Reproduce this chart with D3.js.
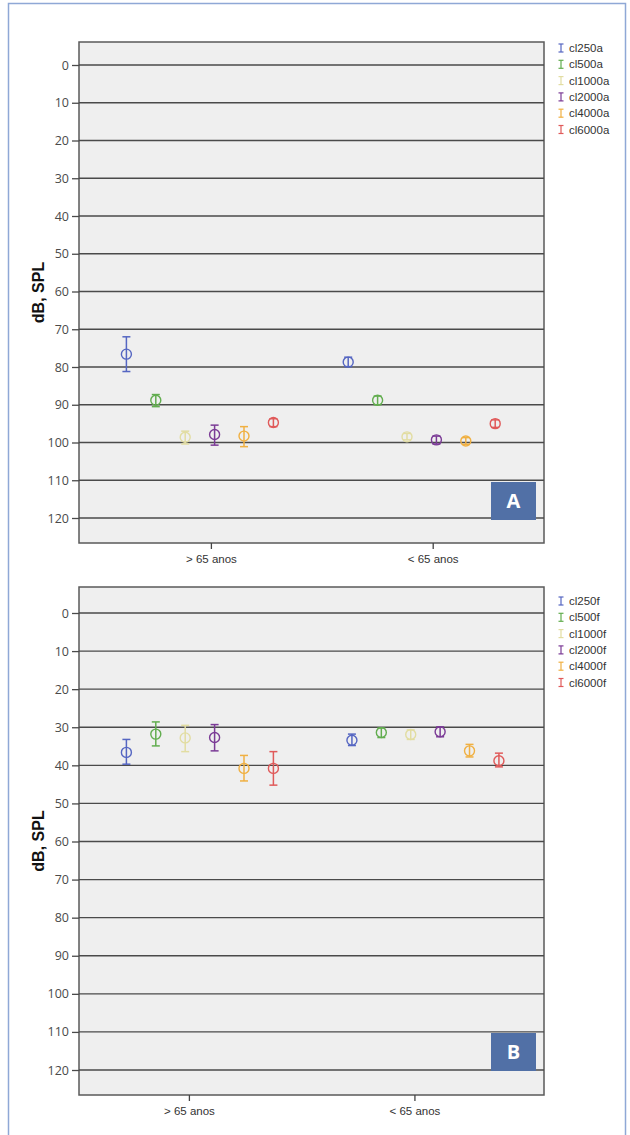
<!DOCTYPE html>
<html>
<head>
<meta charset="utf-8">
<script src="https://cdn.jsdelivr.net/npm/d3@7"></script>
<style>
  body { margin: 0; background: #fff; }
  text { font-family: "Liberation Sans", Arial, sans-serif; }
</style>
</head>
<body>
<script>
const width = 630;
const height = 1135;

// categories
const groups = ["> 65 anos", "< 65 anos"];
const yTicks = [0, 10, 20, 30, 40, 50, 60, 70, 80, 90, 100, 110, 120];
const colors = ["#5566c2", "#62ad4f", "#e2dda2", "#7b3b96", "#f0b042", "#e05a5a"];

// panel A (series x group)
const seriesA = ["cl250a", "cl500a", "cl1000a", "cl2000a", "cl4000a", "cl6000a"];
const meanA = [[76.6, 78.7], [88.8, 88.8], [98.6, 98.5], [97.9, 99.3], [98.3, 99.6], [94.7, 95.0]];
const lowA  = [[72.0, 77.4], [87.3, 87.7], [97.0, 97.6], [95.4, 98.3], [95.8, 98.7], [93.7, 94.0]];
const highA = [[81.2, 79.9], [90.5, 90.0], [100.4, 99.3], [100.7, 100.4], [101.1, 100.5], [95.8, 96.0]];

// panel B
const seriesB = ["cl250f", "cl500f", "cl1000f", "cl2000f", "cl4000f", "cl6000f"];
const meanB = [[36.6, 33.4], [31.8, 31.4], [32.8, 31.9], [32.7, 31.2], [40.8, 36.2], [40.8, 38.8]];
const lowB  = [[33.2, 31.8], [28.6, 30.2], [29.5, 30.7], [29.3, 29.9], [37.4, 34.5], [36.4, 36.8]];
const highB = [[39.7, 34.8], [34.9, 32.7], [36.4, 33.2], [36.2, 32.5], [44.1, 37.8], [45.2, 40.4]];

const svg = d3.select('body').append('svg')
    .attr('width', width)
    .attr('height', height);

// outer frame
svg.append('rect')
    .attr('x', 8.5).attr('y', 3.5)
    .attr('width', 617).attr('height', 1140)
    .attr('fill', 'none')
    .attr('stroke', '#8fa8d6')
    .attr('stroke-width', 1.5);

function drawPanel(cfg) {
    const left = 79, right = 544;
    const w = right - left;

    const y = d3.scaleLinear()
        .domain([0, 120])
        .range([cfg.y0, cfg.y120]);

    const x = d3.scalePoint()
        .domain(groups)
        .range([left + w * cfg.c0, left + w * cfg.c1]);

    const inner = d3.scalePoint()
        .domain(cfg.series)
        .range([-73.5, 73.5]);

    const g = svg.append('g');

    g.append('rect')
        .attr('x', left).attr('y', cfg.top)
        .attr('width', w).attr('height', cfg.bottom - cfg.top)
        .attr('fill', '#efefef')
        .attr('stroke', '#5a5a5a')
        .attr('stroke-width', 1.5);

    // gridlines
    g.selectAll('.grid')
        .data(yTicks)
        .enter().append('line')
        .attr('x1', left).attr('x2', right)
        .attr('y1', d => y(d)).attr('y2', d => y(d))
        .attr('stroke', '#4a4a4a')
        .attr('stroke-width', 1.3);

    // y axis
    const yAxis = g.append('g')
        .attr('transform', `translate(${left},0)`)
        .call(d3.axisLeft(y).tickValues(yTicks).tickSize(7).tickPadding(3));
    yAxis.select('.domain').remove();
    yAxis.selectAll('line').attr('stroke', '#4a4a4a').attr('stroke-width', 1.3);
    yAxis.selectAll('text')
        .attr('fill', '#4a4a4a')
        .style('font-size', '12.5px')
        .style('font-family', '"Open Sans", sans-serif');

    // x axis
    const xAxis = g.append('g')
        .attr('transform', `translate(${cfg.tickShift},${cfg.bottom})`)
        .call(d3.axisBottom(x).tickSize(6).tickPadding(6));
    xAxis.select('.domain').remove();
    xAxis.selectAll('line').attr('stroke', '#444').attr('stroke-width', 1.3);
    xAxis.selectAll('text')
        .attr('fill', '#333')
        .style('font-size', '11.5px');

    // title
    g.append('text')
        .attr('transform', `translate(44,${(cfg.top + cfg.bottom) / 2}) rotate(-90)`)
        .attr('text-anchor', 'middle')
        .attr('fill', '#111')
        .style('font-size', '16px')
        .style('font-weight', 'bold')
        .text('dB, SPL');

    // error bars
    const pts = [];
    cfg.series.forEach((s, i) => {
        groups.forEach((gr, j) => {
            pts.push({s: s, gr: gr, color: colors[i],
                m: cfg.mean[i][j], lo: cfg.low[i][j], hi: cfg.high[i][j]});
        });
    });

    const cap = 4;
    const mark = g.selectAll('.pt')
        .data(pts)
        .enter().append('g')
        .attr('transform', d => `translate(${x(d.gr) + inner(d.s)},0)`);

    mark.append('line')
        .attr('y1', d => y(d.lo)).attr('y2', d => y(d.hi))
        .attr('stroke', d => d.color).attr('stroke-width', 1.5);
    mark.append('line')
        .attr('x1', -cap).attr('x2', cap)
        .attr('y1', d => y(d.lo)).attr('y2', d => y(d.lo))
        .attr('stroke', d => d.color).attr('stroke-width', 1.5);
    mark.append('line')
        .attr('x1', -cap).attr('x2', cap)
        .attr('y1', d => y(d.hi)).attr('y2', d => y(d.hi))
        .attr('stroke', d => d.color).attr('stroke-width', 1.5);
    mark.append('circle')
        .attr('cy', d => y(d.m))
        .attr('r', 5)
        .attr('fill', 'none')
        .attr('stroke', d => d.color)
        .attr('stroke-width', 1.4);

    // legend
    const leg = g.selectAll('.leg')
        .data(cfg.series)
        .enter().append('g')
        .attr('transform', (d, i) => `translate(561,${cfg.legTop + i * 16.3})`);
    leg.append('line')
        .attr('y1', -4).attr('y2', 4)
        .attr('stroke', (d, i) => colors[i]).attr('stroke-width', 1.2);
    leg.append('line')
        .attr('x1', -2.5).attr('x2', 2.5).attr('y1', -4).attr('y2', -4)
        .attr('stroke', (d, i) => colors[i]).attr('stroke-width', 1.2);
    leg.append('line')
        .attr('x1', -2.5).attr('x2', 2.5).attr('y1', 4).attr('y2', 4)
        .attr('stroke', (d, i) => colors[i]).attr('stroke-width', 1.2);
    leg.append('text')
        .attr('x', 8).attr('dy', '0.35em')
        .attr('fill', '#333')
        .style('font-size', '11.5px')
        .text(d => d);

    // panel badge
    g.append('rect')
        .attr('x', 491).attr('y', cfg.badgeTop)
        .attr('width', 45).attr('height', 38)
        .attr('fill', '#5170a6');
    g.append('text')
        .attr('x', 513.5).attr('y', cfg.badgeTop + 19)
        .attr('dy', '0.36em')
        .attr('text-anchor', 'middle')
        .attr('fill', '#fff')
        .style('font-family', '"Open Sans", sans-serif')
        .style('font-size', '20px')
        .style('font-weight', 'bold')
        .text(cfg.label);
}

drawPanel({
    series: seriesA, mean: meanA, low: lowA, high: highA,
    top: 42, bottom: 543, y0: 65, y120: 518,
    c0: 0.26, c1: 0.737, tickShift: 11,
    legTop: 48, badgeTop: 482, label: 'A'
});

drawPanel({
    series: seriesB, mean: meanB, low: lowB, high: highB,
    top: 587, bottom: 1095, y0: 613, y120: 1070,
    c0: 0.26, c1: 0.745, tickShift: -11,
    legTop: 601, badgeTop: 1033, label: 'B'
});
</script>
</body>
</html>
